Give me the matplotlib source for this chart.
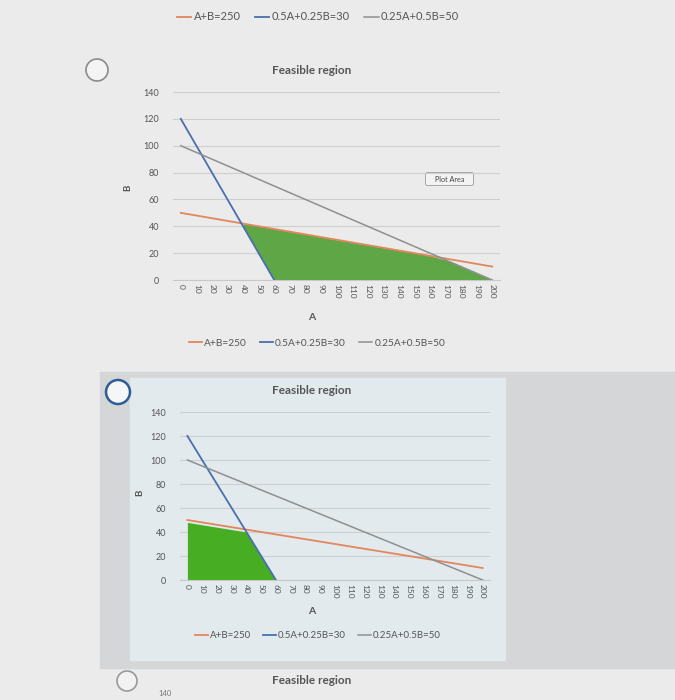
import numpy as np
import matplotlib
matplotlib.use('Agg')
from matplotlib import pyplot as plt
from matplotlib.patches import Rectangle, Circle, FancyBboxPatch

plt.rcParams['font.family'] = ['Lato', 'DejaVu Sans']

# categories on the A axis
a_vals = [0, 10, 20, 30, 40, 50, 60, 70, 80, 90, 100,
          110, 120, 130, 140, 150, 160, 170, 180, 190, 200]
# constraint lines, B values
b_orange = [50, 48, 46, 44, 42, 40, 38, 36, 34, 32, 30,
            28, 26, 24, 22, 20, 18, 16, 14, 12, 10]
b_blue = [120, 100, 80, 60, 40, 20, 0] + [np.nan] * 14
b_gray = [100, 95, 90, 85, 80, 75, 70, 65, 60, 55, 50,
          45, 40, 35, 30, 25, 20, 15, 10, 5, 0]
labels = ['A+B=250', '0.5A+0.25B=30', '0.25A+0.5B=50']

# shaded regions
feas1_a = [40, 50, 60, 70, 80, 90, 100, 110, 120, 130, 140, 150, 160, 170, 180, 190, 200]
feas1_top = [42, 40, 38, 36, 34, 32, 30, 28, 26, 24, 22, 20, 18, 15, 10, 5, 0]
feas1_bot = [40, 20, 0, 0, 0, 0, 0, 0, 0, 0, 0, 0, 0, 0, 0, 0, 0]
feas2_a = [0, 10, 20, 30, 40, 50, 60]
feas2_top = [48, 46, 44, 42, 40, 20, 0]

col_orange = '#e2865c'
col_blue = '#4a6fae'
col_gray = '#8f8f8f'
W, H = 675, 700

fig = plt.figure(figsize=(W / 100, H / 100), dpi=100)
bg = fig.add_axes([0, 0, 1, 1])
bg.set_xlim(0, W)
bg.set_ylim(H, 0)
bg.axis('off')
bg.add_patch(Rectangle((0, 0), W, H, color='#ebebeb'))
bg.add_patch(Rectangle((100, 372), 575, 296, color='#d5d6d7'))
bg.add_patch(Rectangle((130, 378), 375, 282, color='#e2eaee'))

# radio buttons
bg.add_patch(Circle((97, 70), 11, facecolor='#f4f4f4', edgecolor='#8a8a8a', lw=1.2))
bg.add_patch(Circle((118, 392), 12, facecolor='#f4f6f8', edgecolor='#2f5d96', lw=1.8))
bg.add_patch(Circle((127, 681), 10, facecolor='#f2f2f2', edgecolor='#999999', lw=1.2))


def frac(x0, y_top, x1, y_bot):
    return [x0 / W, 1 - y_bot / H, (x1 - x0) / W, (y_bot - y_top) / H]


def draw_chart(ax):
    ax.set_facecolor('none')
    l1, = ax.plot(a_vals, b_orange, color=col_orange, lw=1.3, label=labels[0])
    l2, = ax.plot(a_vals, b_blue, color=col_blue, lw=1.3, label=labels[1])
    l3, = ax.plot(a_vals, b_gray, color=col_gray, lw=1.1, label=labels[2])
    ax.set_xlim(-5, 205)
    ax.set_ylim(0, 140)
    ax.set_yticks(range(0, 141, 20))
    ax.set_xticks(a_vals)
    ax.set_xticklabels([str(v) for v in a_vals], rotation=270, fontsize=6, color='#555555')
    ax.tick_params(axis='y', labelsize=6.5, colors='#555555', length=0, pad=10)
    ax.tick_params(axis='x', length=0, pad=3)
    ax.grid(axis='y', color='#cfcfcf', lw=0.8)
    ax.set_axisbelow(True)
    for s in ['top', 'right', 'left']:
        ax.spines[s].set_visible(False)
    ax.spines['bottom'].set_color('#c8c8c8')
    return [l1, l2, l3]


ax1 = fig.add_axes(frac(173, 92, 500, 280))
h1 = draw_chart(ax1)
ax1.fill_between(feas1_a, feas1_bot, feas1_top, color='#5ea646', lw=0, zorder=1)

ax2 = fig.add_axes(frac(180, 412, 490, 580))
h2 = draw_chart(ax2)
ax2.fill_between(feas2_a, 0, feas2_top, color='#47ad22', lw=0, zorder=1)

# titles and axis labels
for y in [70, 391, 681]:
    bg.text(312, y, 'Feasible region', ha='center', va='center', fontsize=8.5,
            fontweight='bold', color='#555555')
bg.text(312, 318, 'A', ha='center', va='center', fontsize=7.5, fontweight='bold', color='#555555')
bg.text(312, 611, 'A', ha='center', va='center', fontsize=7.5, fontweight='bold', color='#555555')
bg.text(128, 188, 'B', ha='center', va='center', fontsize=7, fontweight='bold',
        rotation=90, color='#555555')
bg.text(140, 493, 'B', ha='center', va='center', fontsize=7, fontweight='bold',
        rotation=90, color='#555555')
bg.text(165, 694, '140', ha='center', va='center', fontsize=5.5, color='#777777')

# "Plot Area" tooltip
bg.add_patch(FancyBboxPatch((426, 173), 47, 12, boxstyle='round,pad=0.5,rounding_size=2',
                            facecolor='#f3f3f3', edgecolor='#9a9a9a', lw=0.6))
bg.text(449.5, 179, 'Plot Area', ha='center', va='center', fontsize=5.2, color='#444444')

# legends
leg_kw = dict(loc='center', ncol=3, frameon=False, handlelength=1.3,
              handletextpad=0.2, columnspacing=1.3, labelcolor='#555555')
fig.legend(handles=h1, bbox_to_anchor=(318 / W, 1 - 17 / H), fontsize=8, **leg_kw)
fig.legend(handles=h1, bbox_to_anchor=(317 / W, 1 - 343 / H), fontsize=7.3, **leg_kw)
fig.legend(handles=h2, bbox_to_anchor=(318 / W, 1 - 636 / H), fontsize=7, **leg_kw)

fig.savefig('out.png', dpi=100)
